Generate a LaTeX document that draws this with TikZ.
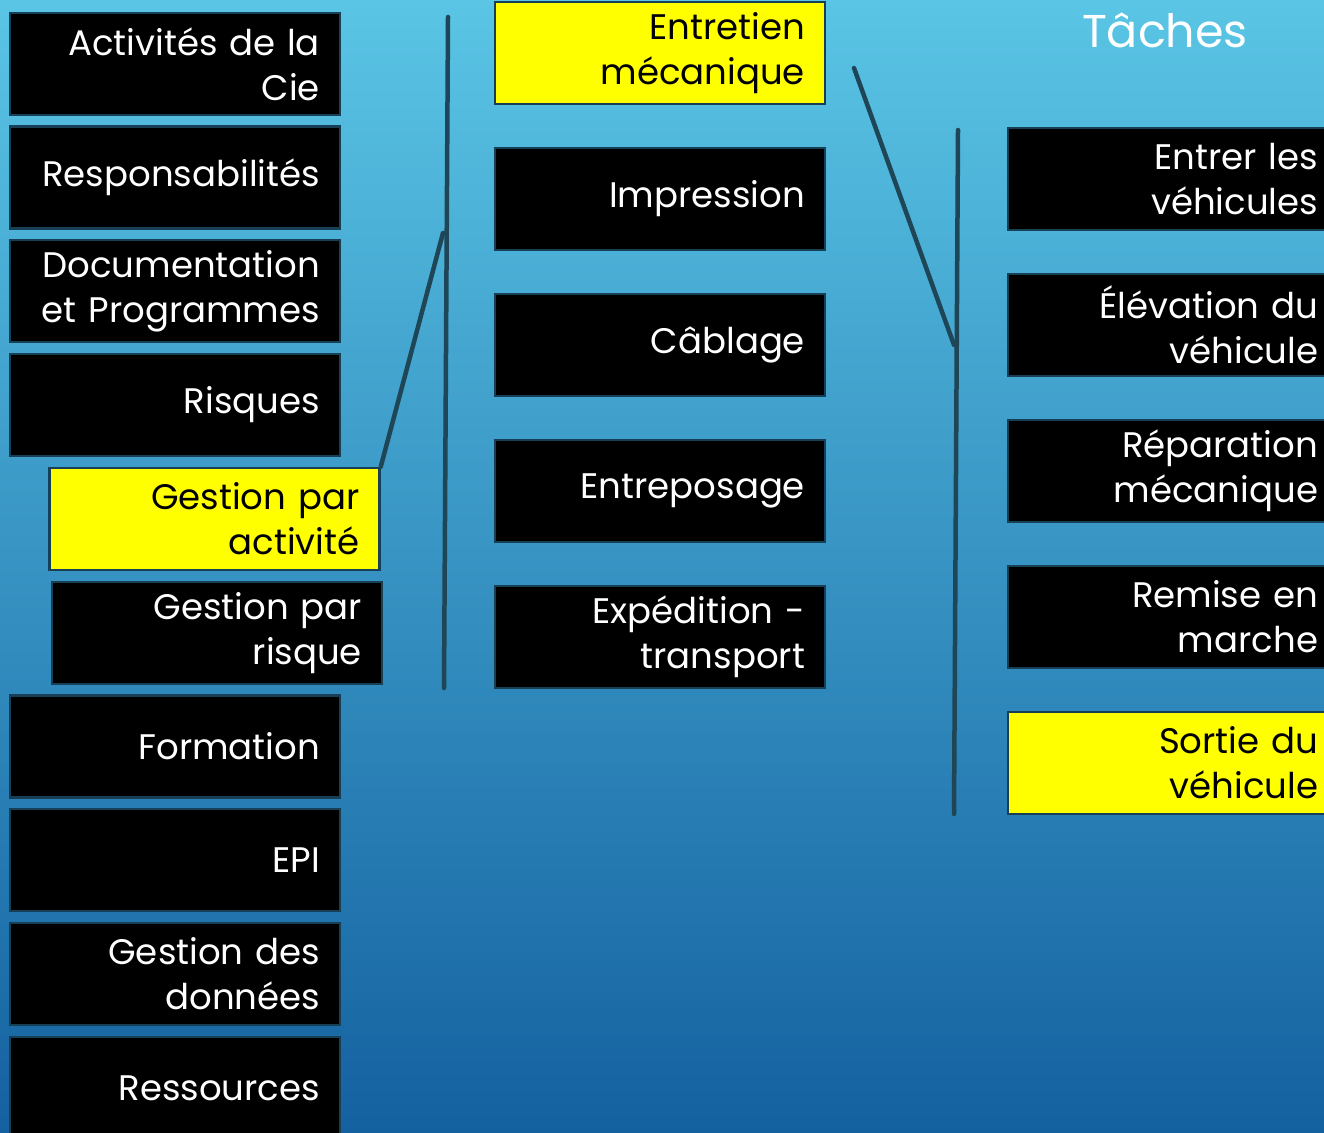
\documentclass[tikz,border=0pt]{standalone}
\usepackage{fontspec}
\setmainfont{Poppins}
\definecolor{bgtop}{HTML}{5AC5E5}
\definecolor{bgbot}{HTML}{1461A0}
\definecolor{edge}{HTML}{173F55}
\definecolor{linec}{HTML}{1E4657}
\definecolor{hl}{HTML}{FFFF00}
\begin{document}
\begin{tikzpicture}[x=1pt,y=-1pt,
  box/.style={draw=edge, line width=2.5pt, fill=black, text=white, align=right,
    inner xsep=20pt, inner ysep=0pt, text width=290pt, minimum height=102pt,
    font=\fontsize{35.5}{45}\selectfont},
  hbox/.style={box, fill=hl, text=black},
  conn/.style={draw=linec, line width=4.5pt, line cap=round}]
\useasboundingbox (0,0) rectangle (1324,1132);
\clip (0,0) rectangle (1324,1132);
\shade[top color=bgtop, bottom color=bgbot] (0,0) rectangle (1324,1132);
% left column
\node[box] (a1) at (175,64) {Activités de la\\Cie};
\node[box] (a2) at (175,177.5) {Responsabilités};
\node[box] (a3) at (175,291) {Documentation\\et Programmes};
\node[box] (a4) at (175,405) {Risques};
\node[hbox] (ga) at (214.5,519) {Gestion par\\activité};
\node[box] (gr) at (217,633) {Gestion par\\risque};
\node[box] (a7) at (175,746.5) {Formation};
\node[box] (a8) at (175,860) {EPI};
\node[box] (a9) at (175,974) {Gestion des\\données};
\node[box] (a10) at (175,1088) {Ressources};
% middle column
\node[hbox] (m1) at (660,53) {Entretien\\mécanique};
\node[box] (m2) at (660,199) {Impression};
\node[box] (m3) at (660,345) {Câblage};
\node[box] (m4) at (660,491) {Entreposage};
\node[box] (m5) at (660,637) {Expédition -\\transport};
% right column
\node[text=white, font=\fontsize{46}{56}\selectfont] (title) at (1165,30) {Tâches};
\node[box] (r1) at (1173,179) {Entrer les\\véhicules};
\node[box] (r2) at (1173,325) {Élévation du\\véhicule};
\node[box] (r3) at (1173,471) {Réparation\\mécanique};
\node[box] (r4) at (1173,617) {Remise en\\marche};
\node[hbox] (r5) at (1173,763) {Sortie du\\véhicule};
% brackets
\coordinate (lt) at (448,17);
\coordinate (lb) at (444,688);
\coordinate (lj) at (443,233);
\coordinate (rt) at (958,130);
\coordinate (rb) at (954,814);
\coordinate (rj) at (954,345);
\coordinate (ej) at (854,68);
\draw[conn] (lt) -- (lb);
\draw[conn] (ga.north east) -- (lj);
\draw[conn] (rt) -- (rb);
\draw[conn] (ej) -- (rj);
\end{tikzpicture}
\end{document}
